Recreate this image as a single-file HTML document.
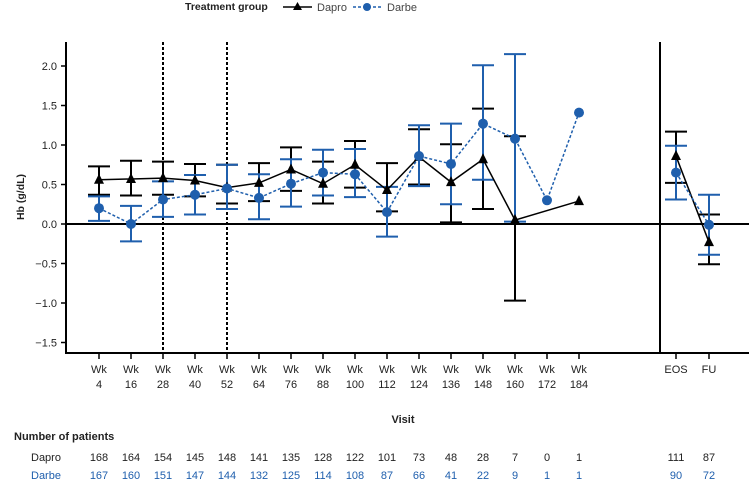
<!DOCTYPE html>
<html><head><meta charset="utf-8"><style>
body{margin:0;background:#fff;}
svg{display:block;font-family:"Liberation Sans",Arial,sans-serif;}
</style></head><body>
<svg id="chart" width="749" height="481" viewBox="0 0 749 481">
<g id="g"></g>
</svg>
<script>
const visits=["Wk 4","Wk 16","Wk 28","Wk 40","Wk 52","Wk 64","Wk 76","Wk 88","Wk 100","Wk 112","Wk 124","Wk 136","Wk 148","Wk 160","Wk 172","Wk 184","EOS","FU"];
const daproMean=[0.56,0.57,0.58,0.55,0.46,0.52,0.69,0.51,0.75,0.43,0.85,0.53,0.82,0.05,null,0.29,0.86,-0.23];
const daproLo=[0.37,0.36,0.37,0.35,0.26,0.29,0.42,0.26,0.46,0.16,0.50,0.02,0.19,-0.97,null,null,0.52,-0.51];
const daproHi=[0.73,0.80,0.79,0.76,0.75,0.77,0.97,0.79,1.05,0.77,1.20,1.01,1.46,1.11,null,null,1.17,0.12];
const darbeMean=[0.20,0.00,0.31,0.37,0.45,0.33,0.51,0.65,0.63,0.15,0.86,0.76,1.27,1.08,0.30,1.41,0.65,-0.01];
const darbeLo=[0.04,-0.22,0.09,0.12,0.19,0.06,0.22,0.36,0.34,-0.16,0.48,0.25,0.56,0.03,null,null,0.31,-0.39];
const darbeHi=[0.35,0.23,0.54,0.62,0.75,0.63,0.82,0.94,0.95,0.47,1.25,1.27,2.01,2.15,null,null,0.99,0.37];
const daproN=["168","164","154","145","148","141","135","128","122","101","73","48","28","7","0","1","111","87"];
const darbeN=["167","160","151","147","144","132","125","114","108","87","66","41","22","9","1","1","90","72"];
const yTicks=[2.0,1.5,1.0,0.5,0.0,-0.5,-1.0,-1.5];

const NS="http://www.w3.org/2000/svg";
const g=document.getElementById('g');
const BLUE="#1f5fad";
function X(i){return i<16?99+i*32:676+(i-16)*33;}
function Y(v){return 224-v*79;}
function el(t,a,txt){const e=document.createElementNS(NS,t);for(const k in a)e.setAttribute(k,a[k]);if(txt!=null)e.textContent=txt;g.appendChild(e);return e;}

let e;
e=el('text',{x:185,y:10,'font-size':10.5,'font-weight':'bold',fill:'#222'},'Treatment group');


e=el('line',{x1:283,y1:7,x2:312,y2:7,stroke:'#000','stroke-width':1.5});


e=el('polygon',{points:'297.5,2 293,10 302,10',fill:'#000'});


e=el('text',{x:317,y:11,'font-size':11,fill:'#444'},'Dapro');


e=el('line',{x1:353,y1:7,x2:381,y2:7,stroke:BLUE,'stroke-width':1.5,'stroke-dasharray':'3,2'});


e=el('circle',{cx:367,cy:7,r:4,fill:BLUE});


e=el('text',{x:387,y:11,'font-size':11,fill:'#444'},'Darbe');



e=el('line',{x1:66,y1:42,x2:66,y2:354,stroke:'#000','stroke-width':2});


e=el('line',{x1:65,y1:353,x2:749,y2:353,stroke:'#000','stroke-width':2});


e=el('line',{x1:66,y1:Y(0),x2:749,y2:Y(0),stroke:'#000','stroke-width':2});


e=el('line',{x1:660,y1:42,x2:660,y2:353,stroke:'#000','stroke-width':2});


[2,4].forEach(i=>{
  e=el('line',{x1:X(i),y1:42,x2:X(i),y2:353,stroke:'#000','stroke-width':2,'stroke-dasharray':'3,2'});
  
  
});
yTicks.forEach(v=>{
  e=el('line',{x1:61,y1:Y(v),x2:66,y2:Y(v),stroke:'#000','stroke-width':1.5});
  
  
  e=el('text',{x:57,y:Y(v)+4,'font-size':11,'text-anchor':'end',fill:'#222'},(v<0?'\u2212':'')+Math.abs(v).toFixed(1));
  
  
});
e=el('text',{x:24,y:197,'font-size':10.5,'font-weight':'bold','text-anchor':'middle',fill:'#222',transform:'rotate(-90 24 197)'},'Hb (g/dL)');



visits.forEach((v,i)=>{
  const x=X(i);
  e=el('line',{x1:x,y1:353,x2:x,y2:359,stroke:'#000','stroke-width':1.5});
  
  
  const p=v.split(' ');
  if(p.length===2){
    e=el('text',{x:x,y:373,'font-size':11,'text-anchor':'middle',fill:'#222'},p[0]);
    
    
    e=el('text',{x:x,y:388,'font-size':11,'text-anchor':'middle',fill:'#222'},p[1]);
    
    
  } else {
    e=el('text',{x:x,y:373,'font-size':11,'text-anchor':'middle',fill:'#222'},v);
    
    
  }
  e=el('text',{x:x,y:461,'font-size':11,'text-anchor':'middle',fill:'#222'},daproN[i]);
  
  
  e=el('text',{x:x,y:479,'font-size':11,'text-anchor':'middle',fill:BLUE},darbeN[i]);
  
  
});
e=el('text',{x:403,y:423,'font-size':11,'font-weight':'bold','text-anchor':'middle',fill:'#222'},'Visit');


e=el('text',{x:14,y:440,'font-size':11,'font-weight':'bold',fill:'#222'},'Number of patients');


e=el('text',{x:31,y:461,'font-size':11,fill:'#222'},'Dapro');


e=el('text',{x:31,y:479,'font-size':11,fill:BLUE},'Darbe');



function path(mean,range){
  let d='';let first=true;
  range.forEach(i=>{if(mean[i]==null)return;d+=(first?'M':'L')+X(i)+','+Y(mean[i]);first=false;});
  return d;
}
const main=[...Array(16).keys()];
function errs(lo,hi,col,name){
  lo.forEach((l,i)=>{
    if(l==null)return;const x=X(i);
    e=el('path',{d:`M${x},${Y(l)}V${Y(hi[i])}M${x-11},${Y(l)}H${x+11}M${x-11},${Y(hi[i])}H${x+11}`,stroke:col,'stroke-width':2,fill:'none'});
    
    
  });
}
errs(daproLo,daproHi,'#000','dapro-error-bar');
errs(darbeLo,darbeHi,BLUE,'darbe-error-bar');
[main,[16,17]].forEach(r=>{
  e=el('path',{d:path(daproMean,r),stroke:'#000','stroke-width':1.5,fill:'none'});
  
  
  e=el('path',{d:path(darbeMean,r),stroke:BLUE,'stroke-width':1.5,fill:'none','stroke-dasharray':'3,2'});
  
  
});
daproMean.forEach((m,i)=>{
  if(m==null)return;const x=X(i),y=Y(m);
  e=el('polygon',{points:`${x},${y-6} ${x-5},${y+4} ${x+5},${y+4}`,fill:'#000'});
  
  
});
darbeMean.forEach((m,i)=>{
  if(m==null)return;
  e=el('circle',{cx:X(i),cy:Y(m),r:5,fill:BLUE});
  
  
});
</script>
</body></html>
